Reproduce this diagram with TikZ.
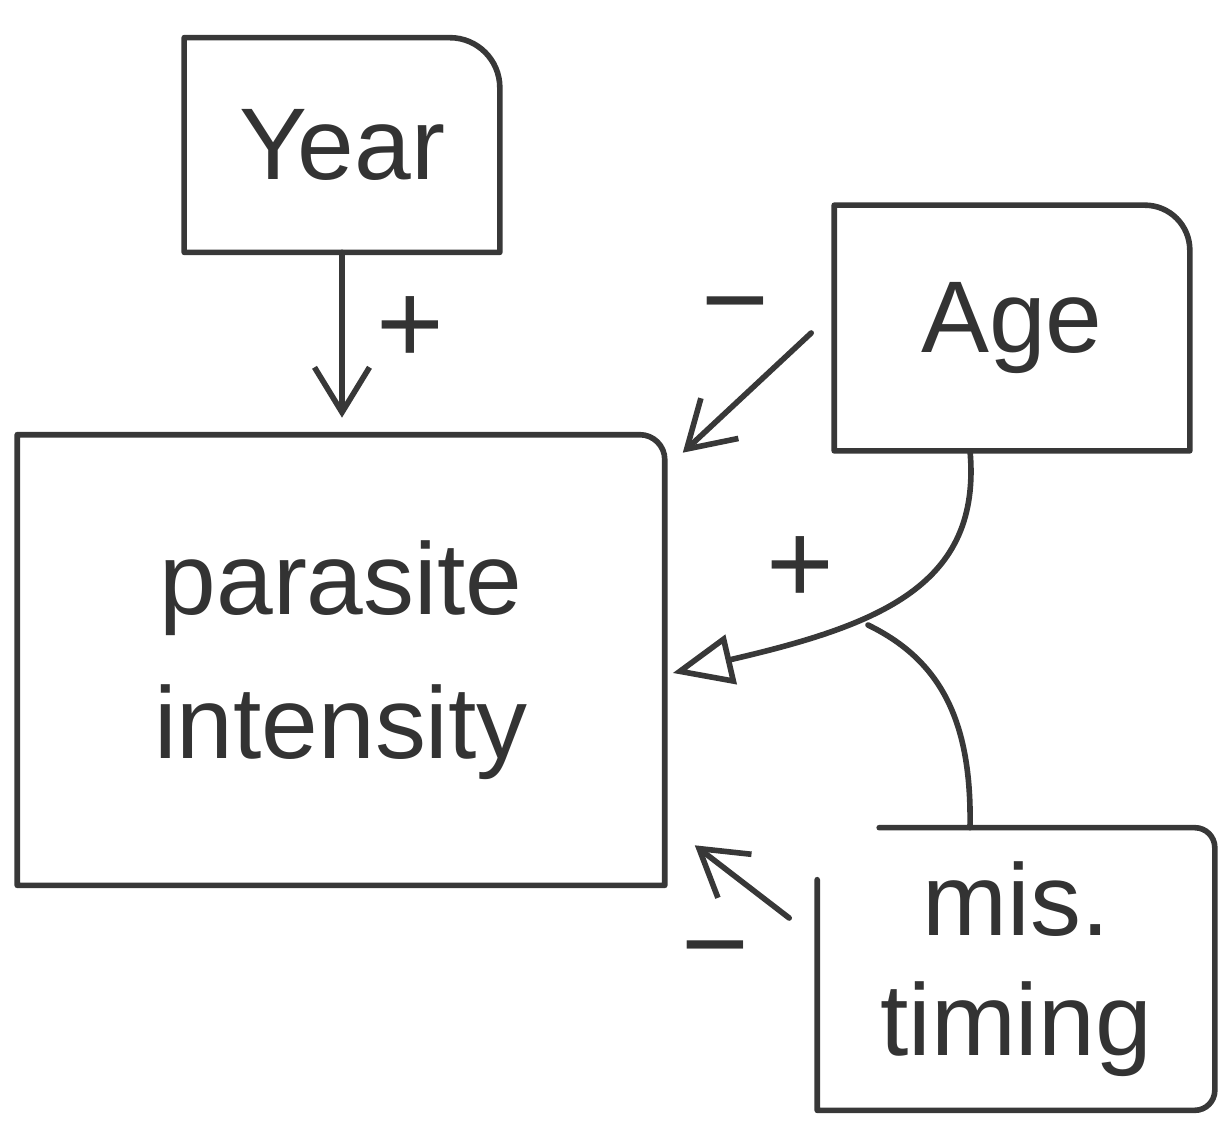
\documentclass[tikz,border=0pt]{standalone}
\usepackage{fontspec}
\setmainfont{Liberation Sans}
\usetikzlibrary{arrows.meta}
\begin{document}
\begin{tikzpicture}[x=0.02cm,y=-0.02cm,
  ink/.style={draw=black!78, line width=3.2pt, line cap=round, line join=round},
  box/.style={draw=none, inner sep=0pt, align=center, text=black!80, font=\fontsize{58}{82}\selectfont},
  sign/.style={font=\fontsize{66}{66}\selectfont, text=black!80, inner sep=0pt},
  vhead/.style={-{Straight Barb[length=9mm,width=11mm,line width=3.2pt]}},
  thead/.style={-{Triangle[open,length=12mm,width=10mm,line width=3.2pt]}}
]
\useasboundingbox (0,0) rectangle (1228,1122);

% nodes
\node[box, minimum width=63mm, minimum height=42.8mm] (year) at (342,145) {Year};
\node[box, minimum width=71mm, minimum height=49mm] (age) at (1012,328) {Age};
\node[box, minimum width=129.4mm, minimum height=90mm] (para) at (341,660) {parasite\\intensity};
\node[box, minimum width=79.4mm, minimum height=56.4mm, font=\fontsize{58}{68}\selectfont] (mis) at (1016,969) {mis.\\timing};

% outlines
\draw[ink] (year.south west) -- (year.north west) -- ([xshift=-10mm]year.north east)
  arc[start angle=90,end angle=0,radius=10mm] -- (year.south east) -- cycle;
\draw[ink] (age.south west) -- (age.north west) -- ([xshift=-9mm]age.north east)
  arc[start angle=90,end angle=0,radius=9mm] -- (age.south east) -- cycle;
\draw[ink] (para.south west) -- (para.north west) -- ([xshift=-5mm]para.north east)
  arc[start angle=90,end angle=0,radius=5mm] -- (para.south east) -- cycle;
\draw[ink] ([yshift=-10.4mm]mis.north west) -- (mis.south west) -- ([xshift=-4mm]mis.south east)
  arc[start angle=-90,end angle=0,radius=4mm] -- ([yshift=-4mm]mis.north east)
  arc[start angle=0,end angle=90,radius=4mm] -- ([xshift=12.4mm]mis.north west);

% connectors
\draw[ink, vhead] (year.south) -- ([yshift=3.4mm]year.south |- para.north);
\node[sign] (p1) at (410,330) {+};

\draw[ink, vhead] ([xshift=-4.6mm,yshift=-1mm]age.west) -- ([xshift=3.6mm,yshift=-3.6mm]para.north east);
\node[sign] (m1) at (735,318) {−};

\draw[ink, thead] ([xshift=-8.4mm]age.south) .. controls (982,585) and (880,625) .. ([xshift=1.6mm,yshift=-2.6mm]para.east);
\node[sign] (p2) at (800,570) {+};

\coordinate (mod) at (868,625);
\draw[ink] ([xshift=-9.2mm]mis.north) .. controls (972,720) and (940,660) .. (mod);

\draw[ink, vhead] ([xshift=-5.6mm,yshift=10.2mm]mis.west) -- ([xshift=6mm,yshift=8mm]para.south east);
\node[sign] (m2) at (715,962) {−};
\end{tikzpicture}
\end{document}
